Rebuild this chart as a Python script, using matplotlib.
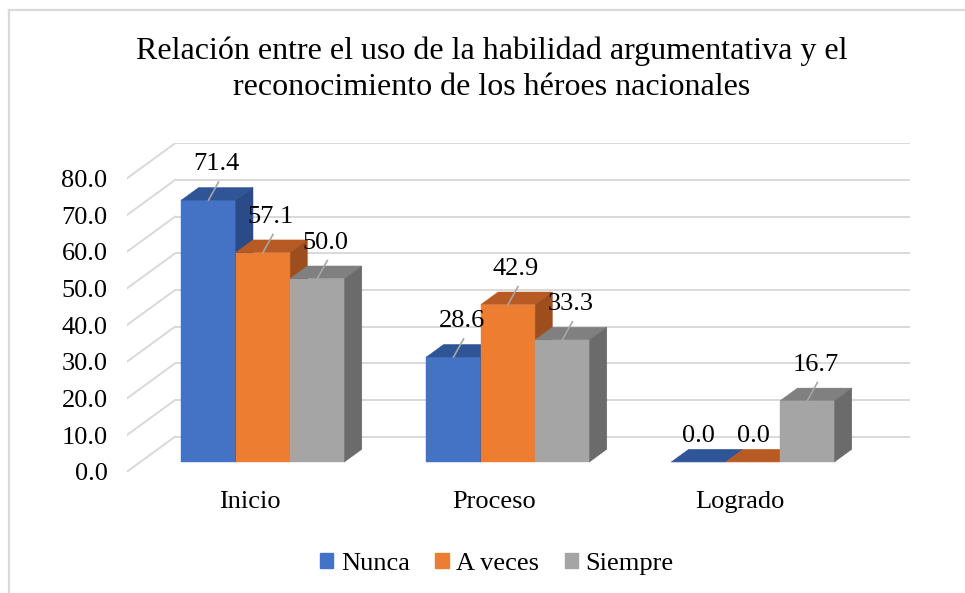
import matplotlib
matplotlib.use("Agg")
import matplotlib.pyplot as plt
from matplotlib.patches import Polygon, Patch
from matplotlib.lines import Line2D

categories = ["Inicio", "Proceso", "Logrado"]
series_names = ["Nunca", "A veces", "Siempre"]
nunca = [71.4, 28.6, 0.0]
a_veces = [57.1, 42.9, 0.0]
siempre = [50.0, 33.3, 16.7]
yticks = [0, 10, 20, 30, 40, 50, 60, 70, 80]
title = "Relación entre el uso de la habilidad argumentativa y el\nreconocimiento de los héroes nacionales"

values = [nunca, a_veces, siempre]
front_colors = ["#4472C4", "#ED7D31", "#A5A5A5"]
top_colors = ["#2F5597", "#B85A23", "#808080"]
side_colors = ["#2B4B88", "#9E4E1D", "#6B6B6B"]

FONT = "Liberation Serif"
FS = 19
W, H = 965, 593
fig = plt.figure(figsize=(W / 100, H / 100), dpi=100)

# pixel geometry of front plane
PX_X = 245.0          # px per category unit
PX_Y = 3.6667         # px per value unit
DEPTH_PX_X, DEPTH_PX_Y = 48.0, 35.0
DX = DEPTH_PX_X / PX_X
DY = DEPTH_PX_Y / PX_Y
YMAX = 80
left_px, base_px = 127.0, 471.7
ax_w_px = 3 * PX_X + DEPTH_PX_X
ax_h_px = (YMAX + DY) * PX_Y
ax = fig.add_axes([left_px / W, (H - base_px) / H, ax_w_px / W, ax_h_px / H])
ax.set_xlim(-0.5, 2.5 + DX)
ax.set_ylim(0, YMAX + DY)
for s in ax.spines.values():
    s.set_visible(False)

def P(x, v, d):
    return (x + d * DX, v + d * DY)

grid_c = "#D9D9D9"
for v in yticks:
    x0, y0 = P(-0.5, v, 1)
    x1, y1 = P(2.5, v, 1)
    ax.plot([x0, x1], [y0, y1], color=grid_c, lw=1.4, zorder=1, solid_capstyle="butt")
    a0, b0 = P(-0.5, v, 0)
    ax.plot([a0, x0], [b0, y0], color=grid_c, lw=1.4, zorder=1)

ax.set_yticks(yticks)
ax.set_yticklabels([f"{v:.1f}" for v in yticks], fontfamily=FONT, fontsize=FS)
ax.set_xticks(range(len(categories)))
ax.set_xticklabels(categories, fontfamily=FONT, fontsize=FS)
ax.tick_params(axis="y", length=0, pad=14)
ax.tick_params(axis="x", length=0, pad=14)

w = 54.4 / PX_X
d1, d2 = 0.28, 0.64
z = 3
for ci in range(len(categories)):
    for si in range(len(series_names)):
        v = values[si][ci]
        xc = ci + (si - 1) * w
        xa, xb = xc - w / 2, xc + w / 2
        ax.bar(xc + d1 * DX, v, bottom=d1 * DY, width=w, color=front_colors[si],
               edgecolor=front_colors[si], linewidth=0.3, zorder=z)
        top = Polygon([P(xa, v, d1), P(xb, v, d1), P(xb, v, d2), P(xa, v, d2)],
                      closed=True, facecolor=top_colors[si], edgecolor=top_colors[si],
                      linewidth=0.3, zorder=z)
        side = Polygon([P(xb, 0, d1), P(xb, v, d1), P(xb, v, d2), P(xb, 0, d2)],
                       closed=True, facecolor=side_colors[si], edgecolor=side_colors[si],
                       linewidth=0.3, zorder=z)
        ax.add_patch(top)
        ax.add_patch(side)
        z += 1
        # data label
        fx, fy = P(xc, v, d1)
        if v > 0:
            ty = fy + 36 / PX_Y
            tx = fx + 8 / PX_X
            ax.plot([fx, fx + 10 / PX_X], [fy, ty - 18 / PX_Y], color="#A6A6A6", lw=1.2, zorder=50)
        else:
            ty = fy + 26 / PX_Y
            tx = fx
        ax.text(tx, ty, f"{v:.1f}", ha="center", va="center", fontfamily=FONT,
                fontsize=FS, zorder=60)

fig.text(492 / W, 1 - 69.5 / H, title, ha="center", va="center", fontfamily=FONT,
         fontsize=23, linespacing=1.3)

handles = [Patch(facecolor=c, edgecolor=c) for c in front_colors]
leg = fig.legend(handles, series_names, loc="center", bbox_to_anchor=(497 / W, 1 - 564 / H),
                 ncol=3, frameon=False, prop={"family": FONT, "size": FS},
                 handlelength=0.5, handleheight=0.5, handletextpad=0.3, columnspacing=0.95)

bc = "#D9D9D9"
fig.add_artist(Line2D([8.5 / W, 8.5 / W], [0, 1 - 9.5 / H], color=bc, lw=1.6, transform=fig.transFigure))
fig.add_artist(Line2D([8.5 / W, 1], [1 - 9.5 / H, 1 - 9.5 / H], color=bc, lw=1.6, transform=fig.transFigure))

fig.savefig("out.png", dpi=100)
